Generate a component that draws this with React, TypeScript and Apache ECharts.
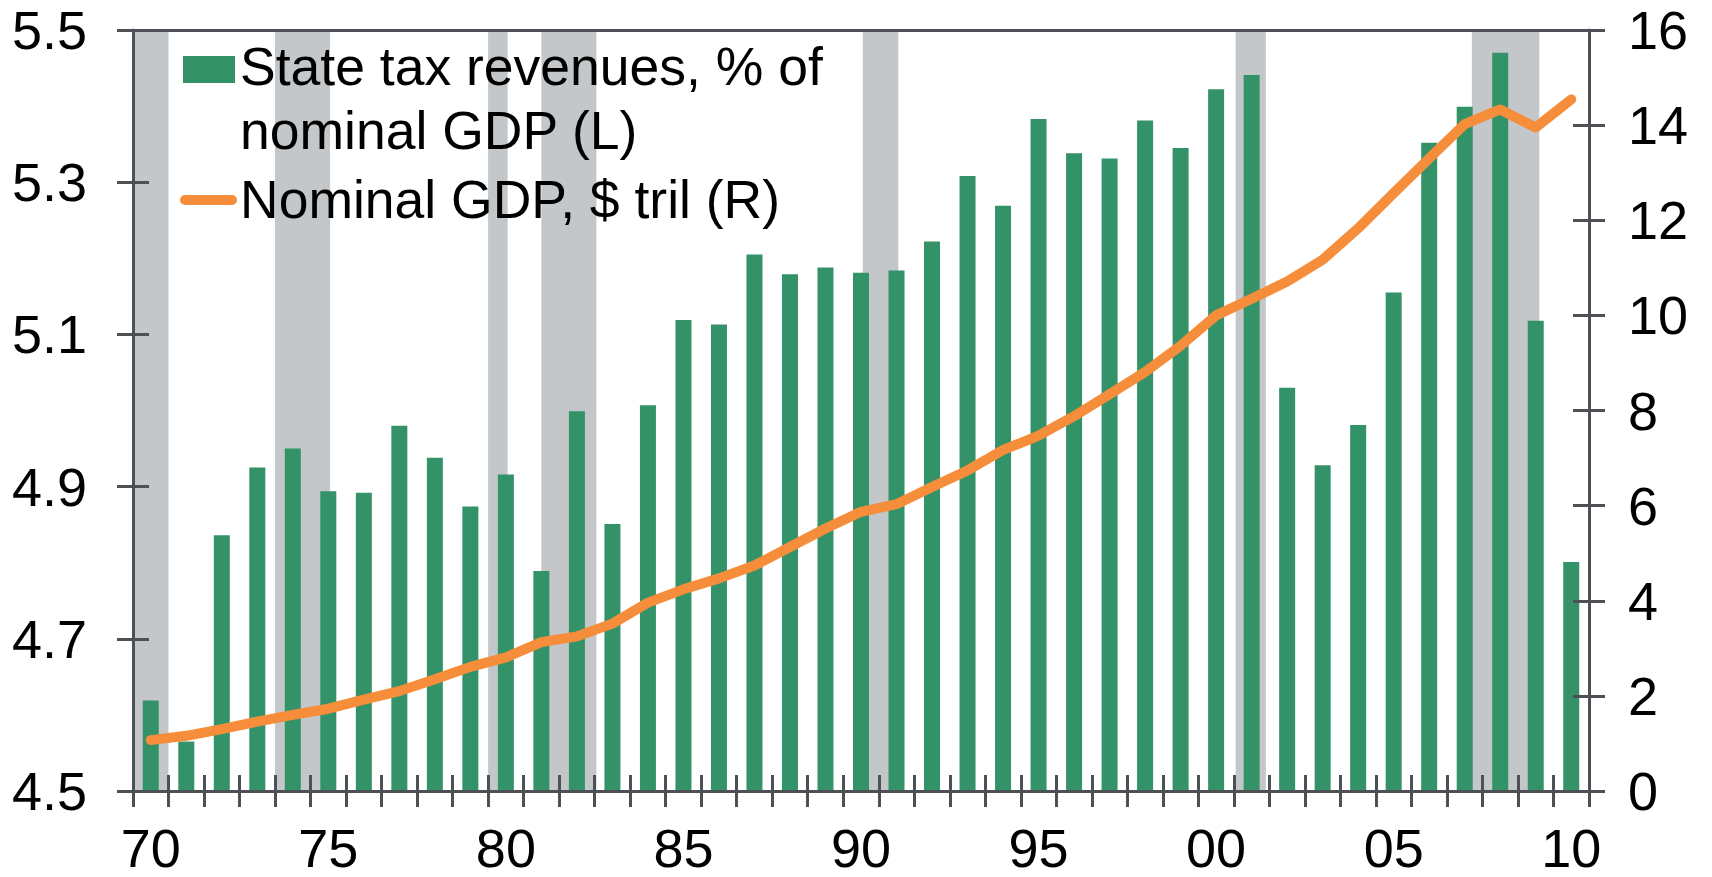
import React, { useEffect, useRef } from 'react';
import * as echarts from 'echarts';

const categories = [
  '70', '71', '72', '73', '74', '75', '76', '77', '78', '79',
  '80', '81', '82', '83', '84', '85', '86', '87', '88', '89',
  '90', '91', '92', '93', '94', '95', '96', '97', '98', '99',
  '00', '01', '02', '03', '04', '05', '06', '07', '08', '09',
  '10',
];

// State tax revenues, % of nominal GDP (left axis)
const stateTaxShare = [
  4.619, 4.565, 4.836, 4.925, 4.950, 4.894, 4.892, 4.980, 4.938, 4.874,
  4.916, 4.789, 4.999, 4.851, 5.007, 5.119, 5.113, 5.205, 5.179, 5.188,
  5.181, 5.184, 5.222, 5.308, 5.269, 5.383, 5.338, 5.331, 5.381, 5.345,
  5.422, 5.441, 5.030, 4.928, 4.981, 5.155, 5.352, 5.399, 5.470, 5.118,
  4.801,
];

// Nominal GDP, $ tril (right axis)
const nominalGdp = [
  1.07, 1.16, 1.30, 1.46, 1.60, 1.73, 1.92, 2.10, 2.35, 2.61,
  2.81, 3.13, 3.25, 3.52, 3.96, 4.24, 4.47, 4.74, 5.13, 5.52,
  5.87, 6.03, 6.39, 6.74, 7.17, 7.47, 7.88, 8.34, 8.81, 9.36,
  10.00, 10.35, 10.71, 11.17, 11.83, 12.57, 13.30, 14.02, 14.33, 13.95,
  14.54,
];

// Recession periods, in category units from the start of 1970
const recessions = [
  [0, 1.0],
  [4.0, 5.55],
  [10.0, 10.55],
  [11.5, 13.05],
  [20.55, 21.55],
  [31.05, 31.9],
  [37.7, 39.6],
];

const leftMin = 4.5;
const leftMax = 5.5;
const leftInterval = 0.2;
const rightMin = 0;
const rightMax = 16;
const rightInterval = 2;

const legendBarLabel = ['State tax revenues, % of', 'nominal GDP (L)'];
const legendLineLabel = 'Nominal GDP, $ tril (R)';

const GREEN = '#339268';
const ORANGE = '#F68D3A';
const GRAY = '#C3C7CA';
const AXIS = '#4D5055';
const FONT = '"Liberation Sans", Arial, Helvetica, sans-serif';

export default function App() {
  const ref = useRef<HTMLDivElement>(null);

  useEffect(() => {
    if (!ref.current) return;
    const chart = echarts.init(ref.current, undefined, { renderer: 'svg' });

    const axisLine = { show: true, onZero: false, lineStyle: { color: AXIS, width: 3 } };
    const tickStyle = { color: AXIS, width: 3 };
    const labelStyle = { color: '#000', fontSize: 54, lineHeight: 54, fontFamily: FONT };

    const option: any = {
      animation: false,
      backgroundColor: '#fff',
      grid: { left: 133, right: 123, top: 30, bottom: 86, containLabel: false },
      xAxis: [
        {
          type: 'category',
          data: categories,
          position: 'bottom',
          boundaryGap: true,
          z: 5,
          axisLine,
          axisTick: { show: true, interval: 0, inside: false, length: 16, lineStyle: tickStyle },
          axisLabel: { ...labelStyle, interval: 4, margin: 30 },
          splitLine: { show: false },
        },
        {
          type: 'category',
          data: categories,
          position: 'bottom',
          boundaryGap: true,
          z: 5,
          axisLine: { show: false, onZero: false },
          axisTick: { show: true, interval: 0, inside: true, length: 16, lineStyle: tickStyle },
          axisLabel: { show: false },
          splitLine: { show: false },
        },
        {
          type: 'category',
          data: categories,
          position: 'top',
          z: 5,
          axisLine,
          axisTick: { show: false },
          axisLabel: { show: false },
          splitLine: { show: false },
        },
        {
          type: 'value',
          min: 0,
          max: categories.length,
          show: false,
          axisLine: { onZero: false },
        },
      ],
      yAxis: [
        {
          type: 'value',
          min: leftMin,
          max: leftMax,
          interval: leftInterval,
          position: 'left',
          z: 5,
          axisLine,
          axisTick: { show: true, inside: false, length: 16, lineStyle: tickStyle },
          axisLabel: { ...labelStyle, margin: 46, formatter: (v: number) => v.toFixed(1) },
          splitLine: { show: false },
        },
        {
          type: 'value',
          min: rightMin,
          max: rightMax,
          interval: rightInterval,
          position: 'right',
          z: 5,
          axisLine,
          axisTick: { show: true, inside: false, length: 16, lineStyle: tickStyle },
          axisLabel: { ...labelStyle, margin: 39, formatter: (v: number) => String(Math.round(v)) },
          splitLine: { show: false },
        },
        {
          type: 'value',
          min: leftMin,
          max: leftMax,
          interval: leftInterval,
          position: 'left',
          z: 5,
          axisLine: { show: false, onZero: false },
          axisTick: { show: true, inside: true, length: 16, lineStyle: tickStyle },
          axisLabel: { show: false },
          splitLine: { show: false },
        },
        {
          type: 'value',
          min: rightMin,
          max: rightMax,
          interval: rightInterval,
          position: 'right',
          z: 5,
          axisLine: { show: false, onZero: false },
          axisTick: { show: true, inside: true, length: 16, lineStyle: tickStyle },
          axisLabel: { show: false },
          splitLine: { show: false },
        },
      ],
      series: [
        {
          type: 'custom',
          name: 'Recessions',
          xAxisIndex: 3,
          yAxisIndex: 0,
          z: 1,
          silent: true,
          data: recessions,
          encode: { x: [0, 1] },
          renderItem: (params: any, api: any) => {
            const s = api.value(0);
            const e = api.value(1);
            const p0 = api.coord([s, leftMax]);
            const p1 = api.coord([e, leftMin]);
            return {
              type: 'rect',
              shape: { x: p0[0], y: p0[1], width: p1[0] - p0[0], height: p1[1] - p0[1] },
              style: { fill: GRAY },
            };
          },
        },
        {
          type: 'bar',
          name: 'State tax revenues, % of nominal GDP (L)',
          xAxisIndex: 0,
          yAxisIndex: 0,
          z: 2,
          barWidth: 16,
          data: stateTaxShare,
          itemStyle: { color: GREEN },
        },
        {
          type: 'line',
          name: 'Nominal GDP, $ tril (R)',
          xAxisIndex: 0,
          yAxisIndex: 1,
          z: 3,
          data: nominalGdp,
          symbol: 'none',
          showSymbol: false,
          lineStyle: { color: ORANGE, width: 10, cap: 'round', join: 'round' },
          itemStyle: { color: ORANGE },
        },
      ],
      graphic: [
        {
          type: 'rect',
          z: 20,
          shape: { x: 183, y: 56, width: 52, height: 27 },
          style: { fill: GREEN },
        },
        {
          type: 'text',
          z: 20,
          x: 240,
          y: 66,
          style: { text: legendBarLabel[0], font: `53.5px ${FONT}`, fill: '#000', align: 'left', verticalAlign: 'middle' },
        },
        {
          type: 'text',
          z: 20,
          x: 240,
          y: 130,
          style: { text: legendBarLabel[1], font: `53.5px ${FONT}`, fill: '#000', align: 'left', verticalAlign: 'middle' },
        },
        {
          type: 'line',
          z: 20,
          shape: { x1: 185, y1: 200, x2: 232, y2: 200 },
          style: { stroke: ORANGE, lineWidth: 10, lineCap: 'round' },
        },
        {
          type: 'text',
          z: 20,
          x: 240,
          y: 199,
          style: { text: legendLineLabel, font: `53.5px ${FONT}`, fill: '#000', align: 'left', verticalAlign: 'middle' },
        },
      ],
    };

    chart.setOption(option);
    return () => chart.dispose();
  }, []);

  return (
    <div
      ref={ref}
      style={{ position: 'fixed', left: 0, top: 0, width: '1712px', height: '877px', background: '#fff' }}
    />
  );
}
